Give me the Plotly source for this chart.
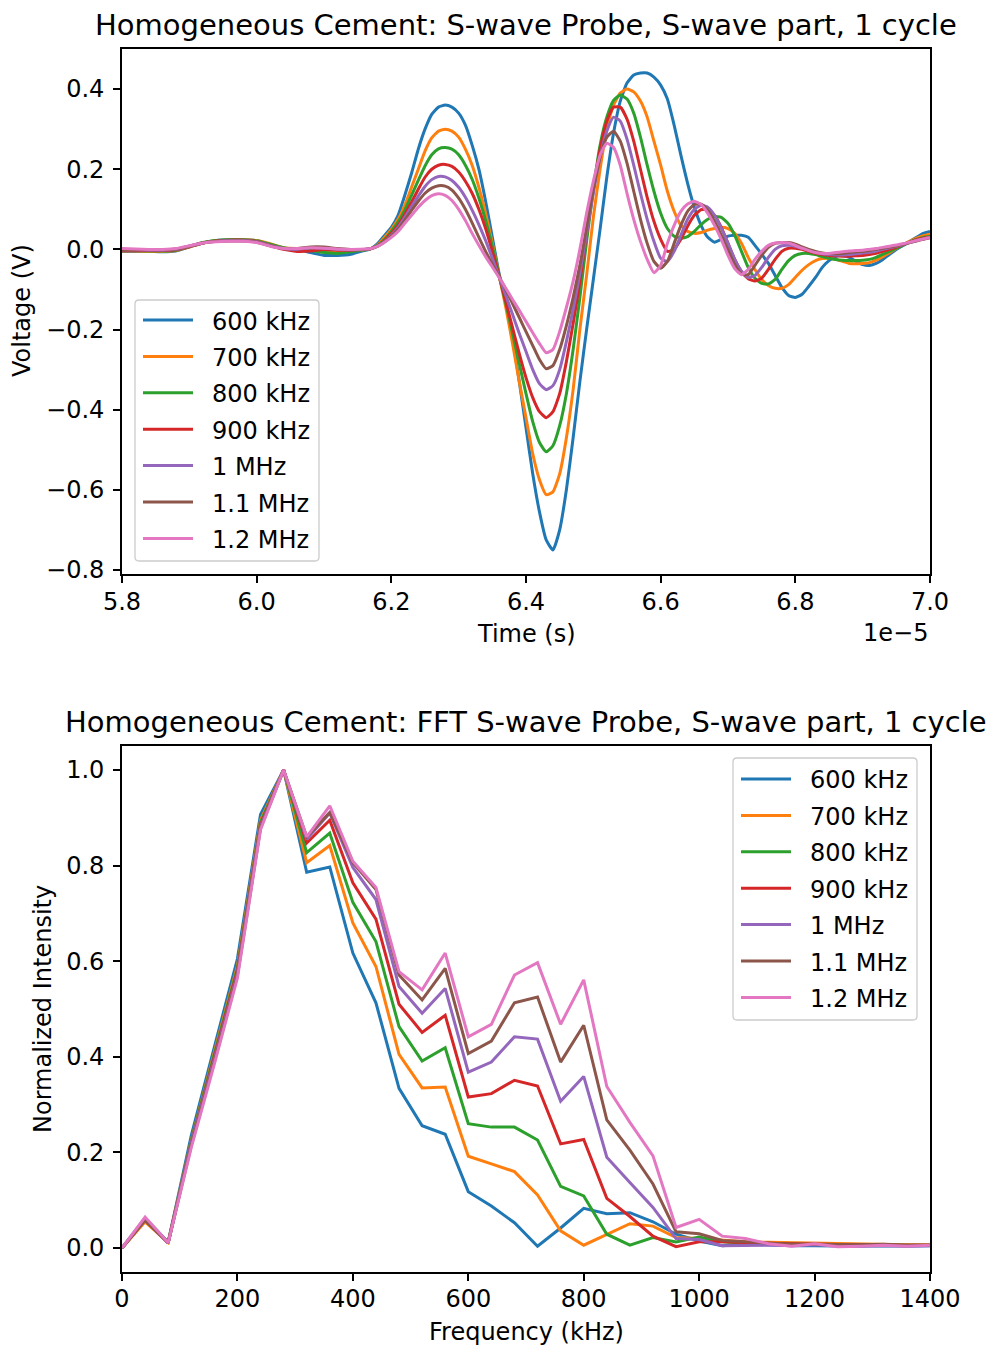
import plotly.graph_objects as go

# ---------------- Time-domain data (S-wave probe, 1 cycle) ----------------
TIME_US = [
    58.0, 58.2, 58.4, 58.6, 58.8, 59.0, 59.2, 59.4, 59.6, 59.8,
    60.0, 60.2, 60.4, 60.6, 60.8, 61.0, 61.2, 61.4, 61.6,
    61.7, 61.8, 61.9,
    62.0, 62.1, 62.2, 62.3, 62.4, 62.5, 62.6, 62.7, 62.8, 62.9,
    63.0, 63.1, 63.2, 63.3, 63.4, 63.5, 63.6, 63.7, 63.8, 63.9,
    64.0, 64.1, 64.2, 64.3, 64.4, 64.5, 64.6, 64.7, 64.8, 64.9,
    65.0, 65.1, 65.2, 65.3, 65.4, 65.5, 65.6, 65.7, 65.8, 65.9,
    66.0, 66.1, 66.2, 66.3, 66.4, 66.5, 66.6, 66.7, 66.8, 66.9,
    67.0, 67.1, 67.2, 67.3, 67.4, 67.5, 67.6, 67.7, 67.8, 67.9,
    68.0, 68.1, 68.2, 68.3, 68.4, 68.5, 68.6, 68.7, 68.8, 68.9,
    69.0, 69.1, 69.2, 69.3, 69.4, 69.5, 69.6, 69.7, 69.8, 69.9,
    70.0,
]

V_600K = [
    -0.005, -0.005, -0.005, -0.006, -0.004, 0.006, 0.016, 0.022, 0.024, 0.024,
    0.022, 0.012, 0.003, 0.0, -0.008, -0.015, -0.015, -0.012, -0.003,
    0.002, 0.015, 0.035,
    0.055, 0.085, 0.135, 0.19, 0.25, 0.30, 0.337, 0.355, 0.36, 0.355,
    0.34, 0.31, 0.26, 0.20, 0.12, 0.03, -0.06, -0.13, -0.22, -0.33,
    -0.445, -0.56, -0.655, -0.725, -0.75, -0.70, -0.60, -0.47, -0.33, -0.20,
    -0.075, 0.05, 0.18, 0.29, 0.37, 0.415, 0.435, 0.44, 0.44, 0.43,
    0.41, 0.375, 0.31, 0.235, 0.165, 0.105, 0.06, 0.03, 0.018, 0.025,
    0.033, 0.035, 0.035, 0.03, 0.01, -0.012, -0.035, -0.065, -0.095, -0.115,
    -0.12, -0.112, -0.092, -0.07, -0.045, -0.028, -0.018, -0.015, -0.02, -0.03,
    -0.038, -0.04, -0.035, -0.025, -0.012, 0.0, 0.01, 0.02, 0.03, 0.04,
    0.045,
]

V_700K = [
    -0.004, -0.004, -0.005, -0.005, -0.003, 0.006, 0.016, 0.022, 0.023, 0.024,
    0.022, 0.014, 0.004, 0.002, 0.002, -0.004, -0.006, -0.004, -0.001,
    0.002, 0.012, 0.03,
    0.05, 0.075, 0.11, 0.155, 0.20, 0.245, 0.278, 0.295, 0.30, 0.295,
    0.28, 0.25, 0.21, 0.155, 0.09, 0.015, -0.065, -0.145, -0.235, -0.33,
    -0.42, -0.51, -0.575, -0.612, -0.605, -0.56, -0.47, -0.35, -0.20, -0.065,
    0.08, 0.2, 0.3, 0.36, 0.39, 0.40, 0.393, 0.37, 0.33, 0.27,
    0.21, 0.145, 0.095, 0.06, 0.045, 0.04, 0.042, 0.048, 0.052, 0.055,
    0.052, 0.04, 0.015, -0.02, -0.05, -0.075, -0.09, -0.097, -0.097, -0.088,
    -0.07, -0.052, -0.038, -0.028, -0.023, -0.022, -0.025, -0.03, -0.035, -0.036,
    -0.035, -0.033, -0.027, -0.018, -0.008, 0.002, 0.012, 0.02, 0.028, 0.034,
    0.038,
]

V_800K = [
    -0.003, -0.003, -0.004, -0.004, -0.002, 0.007, 0.017, 0.022, 0.024, 0.024,
    0.021, 0.013, 0.004, -0.002, -0.003, -0.008, -0.01, -0.006, -0.001,
    0.002, 0.01, 0.025,
    0.045, 0.068, 0.098, 0.135, 0.172, 0.208, 0.236, 0.251, 0.254, 0.25,
    0.236, 0.21, 0.175, 0.128, 0.072, 0.008, -0.065, -0.135, -0.21, -0.285,
    -0.36, -0.43, -0.482, -0.505, -0.49, -0.44, -0.36, -0.25, -0.12, 0.02,
    0.15, 0.26, 0.33, 0.372, 0.385, 0.375, 0.34, 0.28, 0.21, 0.145,
    0.09, 0.052, 0.033, 0.028, 0.032, 0.045, 0.062, 0.075, 0.082, 0.08,
    0.065, 0.035, -0.005, -0.045, -0.072, -0.085, -0.086, -0.075, -0.05, -0.028,
    -0.015, -0.01, -0.01, -0.013, -0.018, -0.022, -0.025, -0.027, -0.028, -0.028,
    -0.027, -0.025, -0.02, -0.012, -0.005, 0.003, 0.01, 0.018, 0.025, 0.03,
    0.033,
]

V_900K = [
    -0.002, -0.002, -0.003, -0.003, -0.001, 0.007, 0.016, 0.021, 0.023, 0.023,
    0.02, 0.01, 0.0, -0.005, -0.004, 0.0, -0.002, -0.002, 0.0,
    0.002, 0.009, 0.022,
    0.04, 0.06, 0.087, 0.118, 0.15, 0.18, 0.2, 0.21, 0.212, 0.207,
    0.193, 0.17, 0.14, 0.1, 0.052, -0.005, -0.066, -0.13, -0.195, -0.26,
    -0.32, -0.37, -0.405, -0.42, -0.405, -0.36, -0.28, -0.185, -0.08, 0.04,
    0.15, 0.25, 0.32, 0.355, 0.355, 0.325, 0.27, 0.2, 0.13, 0.07,
    0.025, -0.005, 0.0, 0.025, 0.058, 0.085, 0.099, 0.1, 0.085, 0.055,
    0.015, -0.025, -0.055, -0.073, -0.079, -0.072, -0.05, -0.025, -0.005, 0.003,
    0.003, 0.0, -0.005, -0.01, -0.013, -0.015, -0.016, -0.017, -0.017, -0.016,
    -0.015, -0.013, -0.01, -0.005, 0.0, 0.006, 0.012, 0.018, 0.024, 0.028,
    0.03,
]

V_1M = [
    -0.001, -0.001, -0.002, -0.002, 0.0, 0.008, 0.016, 0.02, 0.022, 0.022,
    0.019, 0.01, 0.002, 0.0, 0.004, 0.003, 0.0, -0.001, 0.0,
    0.002, 0.009, 0.02,
    0.036, 0.055, 0.08, 0.107, 0.133, 0.157, 0.174, 0.182, 0.181, 0.172,
    0.155, 0.13, 0.098, 0.062, 0.022, -0.022, -0.068, -0.115, -0.162, -0.21,
    -0.255, -0.3, -0.335, -0.35, -0.34, -0.3, -0.23, -0.15, -0.06, 0.04,
    0.14, 0.23, 0.295, 0.33, 0.32, 0.275, 0.21, 0.14, 0.075, 0.02,
    -0.022, -0.03, -0.005, 0.035, 0.075, 0.1, 0.11, 0.105, 0.085, 0.053,
    0.015, -0.025, -0.055, -0.07, -0.065, -0.045, -0.02, 0.0, 0.009, 0.01,
    0.008, 0.003, -0.002, -0.007, -0.011, -0.013, -0.014, -0.014, -0.013, -0.011,
    -0.009, -0.007, -0.004, 0.0, 0.004, 0.008, 0.012, 0.017, 0.022, 0.026,
    0.03,
]

V_1_1M = [
    0.0, 0.0, -0.001, -0.001, 0.001, 0.008, 0.016, 0.02, 0.021, 0.021,
    0.018, 0.009, 0.002, 0.002, 0.006, 0.006, 0.002, 0.0, 0.0,
    0.002, 0.008, 0.019,
    0.033, 0.05, 0.073, 0.097, 0.12, 0.14, 0.153, 0.159, 0.158, 0.148,
    0.128, 0.1, 0.066, 0.03, -0.005, -0.037, -0.068, -0.1, -0.135, -0.17,
    -0.205, -0.24, -0.275, -0.298, -0.29, -0.25, -0.19, -0.12, -0.04, 0.055,
    0.15, 0.23, 0.28, 0.295, 0.27, 0.215, 0.145, 0.075, 0.015, -0.03,
    -0.047, -0.03, 0.015, 0.06, 0.095, 0.112, 0.113, 0.098, 0.07, 0.035,
    -0.002, -0.038, -0.062, -0.063, -0.04, -0.015, 0.005, 0.015, 0.017, 0.017,
    0.013, 0.006, 0.0, -0.005, -0.009, -0.011, -0.011, -0.01, -0.008, -0.006,
    -0.005, -0.003, 0.0, 0.003, 0.006, 0.009, 0.013, 0.017, 0.021, 0.025,
    0.029,
]

V_1_2M = [
    0.002, 0.001, 0.0, 0.0, 0.002, 0.009, 0.016, 0.019, 0.02, 0.02,
    0.017, 0.008, 0.002, 0.002, 0.004, 0.003, 0.001, 0.0, 0.001,
    0.002, 0.008, 0.018,
    0.03, 0.045, 0.065, 0.085, 0.105, 0.122, 0.134, 0.139, 0.135, 0.122,
    0.1, 0.072, 0.04, 0.01, -0.018, -0.044, -0.07, -0.097, -0.125, -0.152,
    -0.18, -0.208, -0.235, -0.258, -0.25, -0.205, -0.145, -0.08, 0.0, 0.09,
    0.17, 0.235, 0.265, 0.255, 0.21, 0.14, 0.075, 0.02, -0.025, -0.058,
    -0.04, 0.015, 0.06, 0.095, 0.113, 0.12, 0.112, 0.09, 0.06, 0.025,
    -0.015, -0.048, -0.063, -0.05, -0.025, -0.005, 0.01, 0.016, 0.017, 0.016,
    0.01, 0.003, -0.003, -0.008, -0.01, -0.01, -0.008, -0.006, -0.004, -0.003,
    -0.002, 0.0, 0.002, 0.005, 0.008, 0.011, 0.014, 0.018, 0.022, 0.026,
    0.03,
]

# ---------------- Frequency-domain data (normalized FFT) ----------------
FREQ_KHZ = [
    0, 40, 80, 120, 160, 200, 240, 280, 320, 360,
    400, 440, 480, 520, 560, 600, 640, 680, 720, 760,
    800, 840, 880, 920, 960, 1000, 1040, 1080, 1120, 1160,
    1200, 1240, 1280, 1320, 1360, 1400,
]

FFT_600K = [
    0.0, 0.063, 0.012, 0.235, 0.42, 0.605, 0.907, 1.0, 0.786, 0.797,
    0.617, 0.513, 0.334, 0.256, 0.238, 0.118, 0.088, 0.053, 0.004, 0.042,
    0.083, 0.072, 0.074, 0.055, 0.029, 0.015, 0.005, 0.008, 0.007, 0.005,
    0.005, 0.004, 0.004, 0.005, 0.004, 0.005,
]
FFT_700K = [
    0.0, 0.055, 0.012, 0.225, 0.41, 0.59, 0.895, 1.0, 0.806, 0.842,
    0.68, 0.589, 0.405, 0.335, 0.337, 0.192, 0.176, 0.16, 0.111, 0.036,
    0.006, 0.029, 0.051, 0.046, 0.022, 0.02, 0.016, 0.013, 0.012, 0.011,
    0.01, 0.009, 0.008, 0.008, 0.007, 0.007,
]
FFT_800K = [
    0.0, 0.06, 0.012, 0.225, 0.405, 0.585, 0.89, 1.0, 0.827, 0.868,
    0.723, 0.641, 0.463, 0.391, 0.419, 0.26, 0.253, 0.253, 0.226, 0.129,
    0.109, 0.029, 0.006, 0.022, 0.013, 0.023, 0.013, 0.01, 0.009, 0.008,
    0.008, 0.007, 0.007, 0.006, 0.006, 0.006,
]
FFT_900K = [
    0.0, 0.06, 0.011, 0.22, 0.4, 0.58, 0.885, 1.0, 0.847, 0.895,
    0.764, 0.688, 0.51, 0.451, 0.487, 0.316, 0.323, 0.351, 0.339, 0.218,
    0.227, 0.104, 0.066, 0.025, 0.003, 0.013, 0.013, 0.011, 0.01, 0.009,
    0.008, 0.007, 0.007, 0.006, 0.006, 0.006,
]
FFT_1M = [
    0.0, 0.06, 0.011, 0.22, 0.395, 0.575, 0.882, 1.0, 0.855, 0.91,
    0.796, 0.729, 0.547, 0.491, 0.543, 0.368, 0.389, 0.442, 0.437, 0.307,
    0.359, 0.19, 0.137, 0.085, 0.02, 0.018, 0.005, 0.006, 0.006, 0.006,
    0.007, 0.005, 0.005, 0.006, 0.005, 0.005,
]
FFT_1_1M = [
    0.0, 0.058, 0.011, 0.215, 0.39, 0.57, 0.878, 1.0, 0.86, 0.911,
    0.806, 0.75, 0.571, 0.519, 0.585, 0.407, 0.433, 0.513, 0.525, 0.389,
    0.466, 0.268, 0.205, 0.134, 0.034, 0.03, 0.016, 0.013, 0.01, 0.008,
    0.008, 0.007, 0.007, 0.008, 0.006, 0.006,
]
FFT_1_2M = [
    0.0, 0.065, 0.011, 0.21, 0.385, 0.565, 0.875, 1.0, 0.86, 0.925,
    0.809, 0.754, 0.578, 0.54, 0.617, 0.442, 0.468, 0.571, 0.597, 0.468,
    0.561, 0.338, 0.263, 0.193, 0.043, 0.06, 0.025, 0.02, 0.009, 0.004,
    0.009, 0.003, 0.004, 0.006, 0.004, 0.006,
]

LABELS = ["600 kHz", "700 kHz", "800 kHz", "900 kHz", "1 MHz", "1.1 MHz", "1.2 MHz"]
COLORS = ["#1f77b4", "#ff7f0e", "#2ca02c", "#d62728", "#9467bd", "#8c564b", "#e377c2"]
TIME_SERIES = [V_600K, V_700K, V_800K, V_900K, V_1M, V_1_1M, V_1_2M]
FFT_SERIES = [FFT_600K, FFT_700K, FFT_800K, FFT_900K, FFT_1M, FFT_1_1M, FFT_1_2M]

FONT = "DejaVu Sans"
TEXT_SIZE = 24
TITLE_SIZE = 29
LINE_W = 3

time_s = [t * 1e-6 for t in TIME_US]

# page geometry (pixels)
W, H = 989, 1346
ML, MR, MT, MB = 122, 59, 49, 74
PW = W - ML - MR
PH = H - MT - MB


def py(pix):
    """pixel row -> paper y"""
    return (H - MB - pix) / PH


def px(pix):
    """pixel column -> paper x"""
    return (pix - ML) / PW


fig = go.Figure()

for lab, col, v in zip(LABELS, COLORS, TIME_SERIES):
    fig.add_trace(go.Scatter(
        x=time_s, y=v, mode="lines", name=lab, showlegend=False,
        line=dict(color=col, width=LINE_W, shape="spline", smoothing=0.5),
        xaxis="x", yaxis="y",
    ))

for lab, col, v in zip(LABELS, COLORS, FFT_SERIES):
    fig.add_trace(go.Scatter(
        x=FREQ_KHZ, y=v, mode="lines", name=lab, showlegend=False,
        line=dict(color=col, width=LINE_W),
        xaxis="x2", yaxis="y2",
    ))

axis_common = dict(
    showline=True, linecolor="black", linewidth=1.6, mirror=True,
    ticks="outside", ticklen=7, tickwidth=1.6, tickcolor="black",
    showgrid=False, zeroline=False,
    tickfont=dict(family=FONT, size=TEXT_SIZE, color="black"),
)

top_ticks = [5.8e-5, 6.0e-5, 6.2e-5, 6.4e-5, 6.6e-5, 6.8e-5, 7.0e-5]
top_tick_text = ["5.8", "6.0", "6.2", "6.4", "6.6", "6.8", "7.0"]
volt_ticks = [0.4, 0.2, 0.0, -0.2, -0.4, -0.6, -0.8]
volt_text = ["0.4", "0.2", "0.0", "\u22120.2", "\u22120.4", "\u22120.6", "\u22120.8"]

fig.update_layout(
    width=W, height=H,
    margin=dict(l=ML, r=MR, t=MT, b=MB),
    paper_bgcolor="white", plot_bgcolor="white",
    font=dict(family=FONT, color="black"),
    showlegend=False,
    xaxis=dict(domain=[0, 1], anchor="y", range=[5.8e-5, 7.0e-5],
               tickvals=top_ticks, ticktext=top_tick_text, ticklabelstandoff=-2,
               **axis_common),
    yaxis=dict(domain=[py(574), 1], anchor="x", range=[-0.81, 0.50],
               tickvals=volt_ticks, ticktext=volt_text, ticklabelstandoff=4,
               **axis_common),
    xaxis2=dict(domain=[0, 1], anchor="y2", range=[0, 1400],
                tickvals=[0, 200, 400, 600, 800, 1000, 1200, 1400],
                ticklabelstandoff=-3, **axis_common),
    yaxis2=dict(domain=[0, py(746)], anchor="x2", range=[-0.05, 1.05],
                tickvals=[0.0, 0.2, 0.4, 0.6, 0.8, 1.0], tickformat=".1f",
                ticklabelstandoff=4, **axis_common),
)


def rounded_box(x0, y0, x1, y1, r=4):
    """SVG path (paper coords) for a rounded rectangle given pixel corners."""
    X = lambda p: px(p)
    Y = lambda p: py(p)
    return (
        f"M {X(x0 + r)},{Y(y0)} L {X(x1 - r)},{Y(y0)} Q {X(x1)},{Y(y0)} {X(x1)},{Y(y0 + r)} "
        f"L {X(x1)},{Y(y1 - r)} Q {X(x1)},{Y(y1)} {X(x1 - r)},{Y(y1)} "
        f"L {X(x0 + r)},{Y(y1)} Q {X(x0)},{Y(y1)} {X(x0)},{Y(y1 - r)} "
        f"L {X(x0)},{Y(y0 + r)} Q {X(x0)},{Y(y0)} {X(x0 + r)},{Y(y0)} Z"
    )


def draw_legend(box, first_row, row_step, line_x0, line_x1, text_x):
    fig.add_shape(type="path", xref="paper", yref="paper",
                  path=rounded_box(*box),
                  fillcolor="rgba(255,255,255,0.8)",
                  line=dict(color="#cccccc", width=1.3), layer="above")
    for k, (lab, col) in enumerate(zip(LABELS, COLORS)):
        row = first_row + k * row_step
        fig.add_shape(type="line", xref="paper", yref="paper",
                      x0=px(line_x0), x1=px(line_x1), y0=py(row), y1=py(row),
                      line=dict(color=col, width=LINE_W), layer="above")
        fig.add_annotation(text=lab, xref="paper", yref="paper",
                           x=px(text_x), y=py(row + 1.5), xanchor="left", yanchor="middle",
                           showarrow=False,
                           font=dict(family=FONT, size=TEXT_SIZE, color="black"))


draw_legend((135, 300, 319, 561), 320, 36.4, 143, 193, 210)
draw_legend((733, 758, 917, 1020), 779, 36.4, 741, 791, 808)

labels = [
    ("Homogeneous Cement: S-wave Probe, S-wave part, 1 cycle", 0.5, py(25), TITLE_SIZE, 0),
    ("Homogeneous Cement: FFT S-wave Probe, S-wave part, 1 cycle", 0.5, py(722), TITLE_SIZE, 0),
    ("Time (s)", 0.5, py(634), TEXT_SIZE, 0),
    ("Frequency (kHz)", 0.5, py(1332), TEXT_SIZE, 0),
    ("Voltage (V)", px(22), py(311), TEXT_SIZE, -90),
    ("Normalized Intensity", px(43), py(1009), TEXT_SIZE, -90),
]
for text, x, y, size, angle in labels:
    fig.add_annotation(text=text, xref="paper", yref="paper", x=x, y=y,
                       xanchor="center", yanchor="middle", showarrow=False,
                       textangle=angle,
                       font=dict(family=FONT, size=size, color="black"))

fig.add_annotation(text="1e\u22125", xref="paper", yref="paper", x=1.0, y=py(633),
                   xanchor="right", yanchor="middle", showarrow=False,
                   font=dict(family=FONT, size=TEXT_SIZE, color="black"))

fig.write_html("out.html")
